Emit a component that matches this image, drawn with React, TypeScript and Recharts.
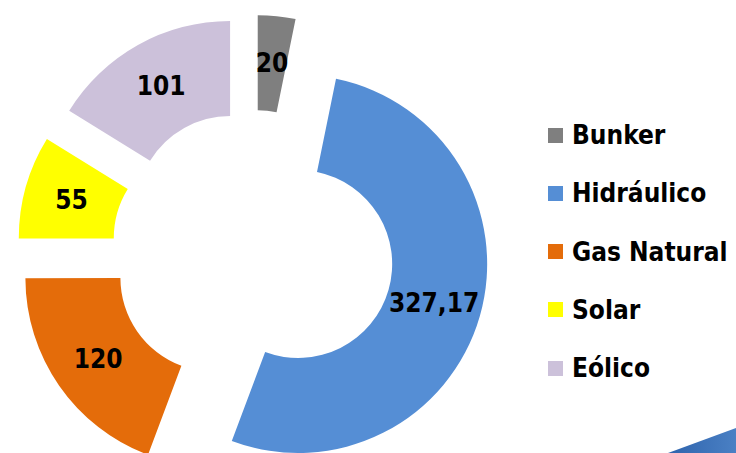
import { Cell, Legend, Pie, PieChart, Sector } from 'recharts'

const SOURCES = ['Bunker', 'Hidráulico', 'Gas Natural', 'Solar', 'Eólico']
const VALUES = [20, 327.17, 120, 55, 101]
const COLORS = ['#7f7f7f', '#558ed5', '#e46c0a', '#ffff00', '#ccc1da']

const data = SOURCES.map((name, i) => ({ name, value: VALUES[i] }))

const FONT = "'DejaVu Sans Condensed', 'DejaVu Sans', sans-serif"
const EXPLODE = 47
const RAD = Math.PI / 180

const fmt = (v: number) => String(v).replace('.', ',')

// push every slice out along its own middle angle
function ExplodedSlice(props: any) {
  const { cx, cy, midAngle, innerRadius, outerRadius, startAngle, endAngle, fill } = props
  const dx = EXPLODE * Math.cos(-midAngle * RAD)
  const dy = EXPLODE * Math.sin(-midAngle * RAD)
  return (
    <Sector
      cx={cx + dx}
      cy={cy + dy}
      innerRadius={innerRadius}
      outerRadius={outerRadius}
      startAngle={startAngle}
      endAngle={endAngle}
      fill={fill}
      stroke="none"
    />
  )
}

function SliceLabel(props: any) {
  const { cx, cy, midAngle, innerRadius, outerRadius, value } = props
  const r = EXPLODE + (innerRadius + outerRadius) / 2
  const x = cx + r * Math.cos(-midAngle * RAD)
  const y = cy + r * Math.sin(-midAngle * RAD)
  return (
    <text
      x={x}
      y={y}
      textAnchor="middle"
      dominantBaseline="central"
      fill="#000"
      fontFamily={FONT}
      fontWeight="bold"
      fontSize={26}
    >
      {fmt(value)}
    </text>
  )
}

// keep the legend in data order, not alphabetical
function LegendList({ payload }: any) {
  const items = [...(payload ?? [])].sort(
    (a: any, b: any) => SOURCES.indexOf(a.value) - SOURCES.indexOf(b.value),
  )
  return (
    <div>
      {items.map((entry: any) => (
        <div key={entry.value} style={{ display: 'flex', alignItems: 'center', height: 58.25 }}>
          <span style={{ width: 15, height: 15, background: entry.color, marginRight: 9, flex: 'none' }} />
          <span style={{ fontFamily: FONT, fontWeight: 'bold', fontSize: 26, color: '#000', whiteSpace: 'nowrap' }}>
            {entry.value}
          </span>
        </div>
      ))}
    </div>
  )
}

export default function App() {
  return (
    <div style={{ position: 'absolute', left: 0, top: 0, width: 736, height: 453, background: '#fff', overflow: 'hidden' }}>
      <PieChart width={736} height={453} margin={{ top: 0, right: 0, bottom: 0, left: 0 }}>
        <Pie
          data={data}
          dataKey="value"
          nameKey="name"
          cx={253}
          cy={251}
          innerRadius={94}
          outerRadius={189}
          startAngle={90}
          endAngle={-270}
          stroke="none"
          shape={ExplodedSlice}
          label={SliceLabel}
          labelLine={false}
          isAnimationActive={false}
        >
          {data.map((_, i) => (
            <Cell key={i} fill={COLORS[i]} />
          ))}
        </Pie>
        <Legend
          layout="vertical"
          align="right"
          verticalAlign="top"
          content={LegendList}
          wrapperStyle={{ left: 548, top: 106, right: 'auto', bottom: 'auto', width: 190 }}
        />
      </PieChart>
      <svg width={736} height={453} style={{ position: 'absolute', left: 0, top: 0, pointerEvents: 'none' }}>
        <defs>
          <linearGradient id="deco" x1="0" y1="0" x2="1" y2="0">
            <stop offset="0%" stopColor="#2f64ad" />
            <stop offset="100%" stopColor="#4a80c4" />
          </linearGradient>
        </defs>
        <polygon points="668,453 736,428 736,453" fill="url(#deco)" />
      </svg>
    </div>
  )
}
